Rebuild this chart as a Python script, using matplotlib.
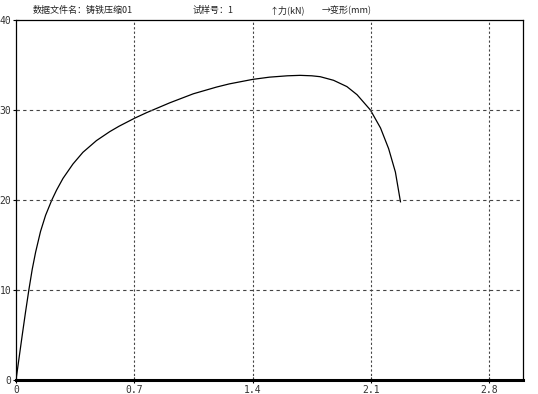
import matplotlib
matplotlib.use("Agg")
import matplotlib.pyplot as plt

# Data (deformation mm, force kN)
deform = [0, 0.017, 0.037, 0.056, 0.076, 0.096, 0.116, 0.145, 0.175, 0.212,
          0.24, 0.278, 0.337, 0.396, 0.476, 0.555, 0.61, 0.703, 0.772, 0.910,
          1.049, 1.187, 1.262, 1.40, 1.50, 1.606, 1.681, 1.75, 1.80, 1.879,
          1.958, 2.018, 2.097, 2.157, 2.205, 2.245, 2.275]
force = [0, 2.3, 5.0, 7.5, 10.0, 12.3, 14.2, 16.5, 18.3, 20.0,
         21.1, 22.4, 24.0, 25.3, 26.6, 27.6, 28.2, 29.1, 29.7, 30.8,
         31.8, 32.55, 32.9, 33.4, 33.65, 33.8, 33.85, 33.8, 33.7, 33.3,
         32.6, 31.7, 30.0, 28.0, 25.7, 23.1, 19.8]
xticks = [0, 0.7, 1.4, 2.1, 2.8]
xticklabels = ["0", "0.7", "1.4", "2.1", "2.8"]
yticks = [0, 10, 20, 30, 40]
header = ["数据文件名：铸铁压缩01", "试样号：1", "↑力(kN)", "→变形(mm)"]
header_x = [33, 193, 270, 322]

fig = plt.figure(figsize=(5.38, 3.94), dpi=100)
fig.patch.set_facecolor("white")
ax = fig.add_axes([16/538, 1-380/394, (523-16)/538, (380-20)/394])

ax.plot(deform, force, color="black", lw=0.9, solid_joinstyle="round")
ax.set_xlim(0, 3.0)
ax.set_ylim(0, 40)
ax.set_xticks(xticks)
ax.set_xticklabels(xticklabels)
ax.set_yticks(yticks)
ax.tick_params(direction="inout", length=5, width=0.8, labelsize=7, pad=1, colors="black")
for lab in ax.get_xticklabels() + ax.get_yticklabels():
    lab.set_family("DejaVu Sans Mono")
    lab.set_color("#333333")

for v in xticks[1:]:
    ax.axvline(v, color="#444444", lw=0.8, ls=(0, (2, 2)))
for v in yticks[1:-1]:
    ax.axhline(v, color="#444444", lw=0.8, ls=(0, (3, 3)))

for s in ["left", "top", "right"]:
    ax.spines[s].set_linewidth(0.9)
ax.spines["bottom"].set_linewidth(2.2)

for t, x in zip(header, header_x):
    fig.text(x/538, 1-10/394, t, fontsize=6.5, va="center", ha="left",
             family=["Noto Sans CJK SC", "DejaVu Sans"], color="#222222")

fig.savefig("out.png", dpi=100)
